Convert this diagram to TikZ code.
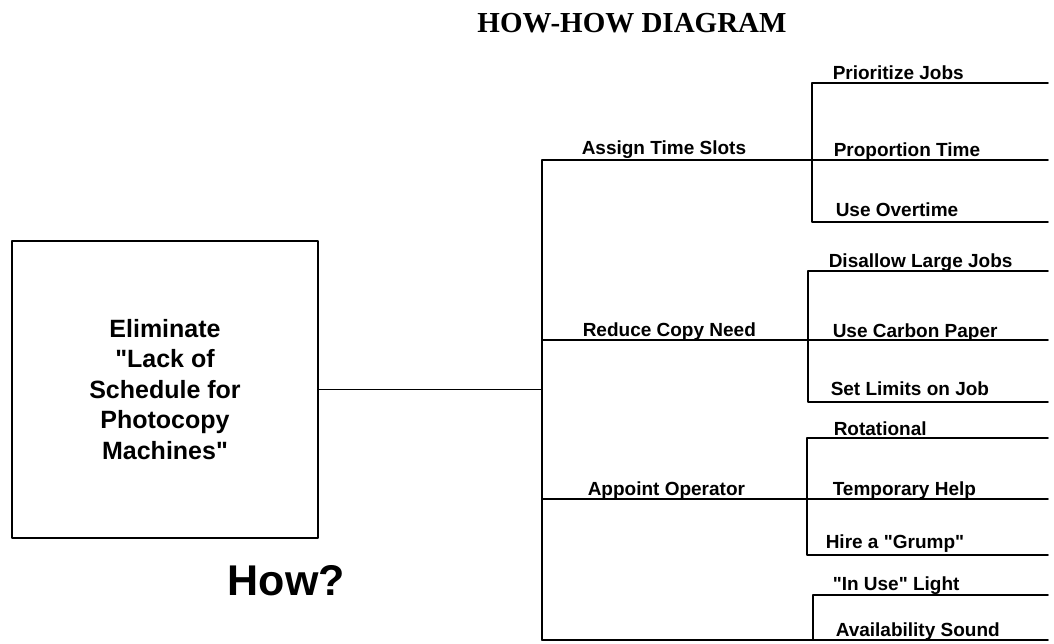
\documentclass[tikz,border=0pt]{standalone}
\usepackage{fontspec}
\setmainfont{Liberation Serif}[Ligatures=TeXOff]
\setsansfont{Liberation Sans}[Ligatures=TeXOff]
\begin{document}
\begin{tikzpicture}[x=1pt, y=-1pt, line width=1.5pt, line join=round, line cap=round,
    lbl/.style={anchor=base west, inner sep=0pt, font=\sffamily\bfseries\fontsize{19}{19}\selectfont},
    goalbox/.style={draw, line width=1.5pt, minimum width=306pt, minimum height=297pt, align=center,
      font=\sffamily\bfseries\fontsize{25}{30.5}\selectfont}]
      \useasboundingbox (0,0) rectangle (1054,644);

      \node[anchor=base, inner sep=0pt] (title) at (632,33) {\bfseries\fontsize{29}{29}\selectfont HOW-HOW DIAGRAM};
      \node[goalbox] (goal) at (165,389.5) {Eliminate\\"Lack of\\Schedule for\\Photocopy\\Machines"};
      \node[anchor=base west, inner sep=0pt, font=\sffamily\bfseries\fontsize{43}{43}\selectfont] (how) at (227,595) {How?};

      \coordinate (rend) at (1048,0);
      \coordinate (t1) at (542,160);
      \coordinate (t2) at (542,340);
      \coordinate (t3) at (542,499);
      \coordinate (t4) at (542,640);

      \coordinate (g1a) at (812,83);
      \coordinate (g1c) at (812,222);
      \coordinate (g2a) at (808,271);
      \coordinate (g2c) at (808,402);
      \coordinate (g3a) at (807,438);
      \coordinate (g3c) at (807,555);
      \coordinate (g4a) at (813,595);

      % trunk and first level
      \draw (goal.east) -- (goal.east -| t1);
      \draw (t1) -- (t4);
      \draw (t1) -- (t1 -| rend);
      \draw (t2) -- (t2 -| rend);
      \draw (t3) -- (t3 -| rend);
      \draw (t4) -- (t4 -| rend);

      % second level
      \draw (g1a -| rend) -- (g1a) -- (g1c) -- (g1c -| rend);
      \draw (g2a -| rend) -- (g2a) -- (g2c) -- (g2c -| rend);
      \draw (g3a -| rend) -- (g3a) -- (g3c) -- (g3c -| rend);
      \draw (g4a -| rend) -- (g4a) -- (g4a |- t4);

      \node[lbl] (assign) at (581,155) {Assign Time Slots};
      \node[lbl] (reduce) at (582,336) {Reduce Copy Need};
      \node[lbl] (appoint) at (587,495) {Appoint Operator};

      \node[lbl] (prior) at (832,80) {Prioritize Jobs};
      \node[lbl] (propor) at (833,157) {Proportion Time};
      \node[lbl] (overtime) at (835,217) {Use Overtime};
      \node[lbl] (disallow) at (828,267) {Disallow Large Jobs};
      \node[lbl] (carbon) at (832,337) {Use Carbon Paper};
      \node[lbl] (limits) at (830,395) {Set Limits on Job};
      \node[lbl] (rotat) at (833,435) {Rotational};
      \node[lbl] (temp) at (832,495) {Temporary Help};
      \node[lbl] (grump) at (825,548) {Hire a "Grump"};
      \node[lbl] (light) at (832,590) {"In Use" Light};
      \node[lbl] (sound) at (835,636) {Availability Sound};
    \end{tikzpicture}
\end{document}
